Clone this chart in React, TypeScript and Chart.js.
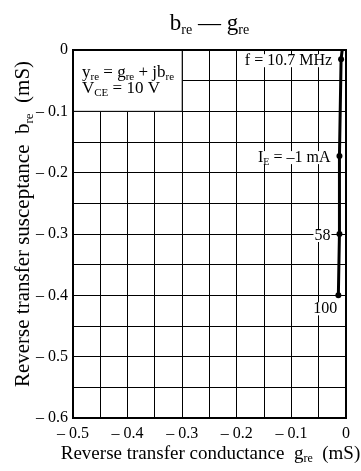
import React, { useEffect, useRef } from "react";
import { Chart, registerables } from "chart.js";

Chart.register(...registerables);

type Seg = { t: string; sub?: boolean };

// ---- data ----
const gValues = [-0.007, -0.009, -0.012, -0.012, -0.014];
const bValues = [0, -0.015, -0.173, -0.3, -0.4];
const markerShown = [false, true, true, true, true];
const pointLabels: Seg[][] = [
  [],
  [{ t: "f = 10.7 MHz" }],
  [{ t: "I" }, { t: "E", sub: true }, { t: " = \u20131 mA" }],
  [{ t: "58" }],
  [{ t: "100" }],
];
const xMin = -0.5;
const xMax = 0;
const yMin = -0.6;
const yMax = 0;
const gridStep = 0.05;
const titleText: Seg[] = [{ t: "b" }, { t: "re", sub: true }, { t: " \u2014 g" }, { t: "re", sub: true }];
const xTitle: Seg[] = [{ t: "Reverse transfer conductance  g" }, { t: "re", sub: true }, { t: "  (mS)" }];
const yTitle: Seg[] = [{ t: "Reverse transfer susceptance  b" }, { t: "re", sub: true }, { t: "  (mS)" }];
const noteLines: Seg[][] = [
  [{ t: "y" }, { t: "re", sub: true }, { t: " = g" }, { t: "re", sub: true }, { t: " + jb" }, { t: "re", sub: true }],
  [{ t: "V" }, { t: "CE", sub: true }, { t: " = 10 V" }],
];
const noteBox = { x0: -0.5, x1: -0.3, y0: 0, y1: -0.1 };

const FONT = '"Liberation Serif", "Times New Roman", serif';

function segFont(size: number, sub?: boolean) {
  return `${sub ? Math.round(size * 0.62) : size}px ${FONT}`;
}

function richWidth(ctx: CanvasRenderingContext2D, segs: Seg[], size: number) {
  let w = 0;
  for (const s of segs) {
    ctx.font = segFont(size, s.sub);
    w += ctx.measureText(s.t).width;
  }
  return w;
}

function drawRich(
  ctx: CanvasRenderingContext2D,
  segs: Seg[],
  x: number,
  baseline: number,
  size: number,
  align: "left" | "right" | "center"
) {
  const w = richWidth(ctx, segs, size);
  let cx = align === "left" ? x : align === "right" ? x - w : x - w / 2;
  ctx.textAlign = "left";
  ctx.textBaseline = "alphabetic";
  ctx.fillStyle = "#000";
  for (const s of segs) {
    ctx.font = segFont(size, s.sub);
    ctx.fillText(s.t, cx, baseline + (s.sub ? size * 0.18 : 0));
    cx += ctx.measureText(s.t).width;
  }
  return w;
}

const decorPlugin = {
  id: "decor",
  beforeDatasetsDraw(chart: any) {
    const ctx: CanvasRenderingContext2D = chart.ctx;
    const xs = chart.scales.x;
    const ys = chart.scales.y;
    // note box
    const l = xs.getPixelForValue(noteBox.x0);
    const r = xs.getPixelForValue(noteBox.x1);
    const t = ys.getPixelForValue(noteBox.y0);
    const b = ys.getPixelForValue(noteBox.y1);
    ctx.save();
    ctx.fillStyle = "#fff";
    ctx.fillRect(l, t, r - l, b - t);
    ctx.strokeStyle = "#000";
    ctx.lineWidth = 1;
    ctx.strokeRect(l, t, r - l, b - t);
    drawRich(ctx, noteLines[0], l + 9, t + 27, 17, "left");
    drawRich(ctx, noteLines[1], l + 9, t + 43, 17, "left");
    // point labels (with white background)
    const size = 16;
    for (let i = 0; i < gValues.length; i++) {
      const segs = pointLabels[i];
      if (!segs.length) continue;
      const px = xs.getPixelForValue(gValues[i]);
      const py = ys.getPixelForValue(bValues[i]);
      let right = px - 9;
      let cy = py + 1;
      if (i === 4) {
        right = px - 1;
        cy = py + 13;
      }
      const w = richWidth(ctx, segs, size);
      ctx.fillStyle = "#fff";
      ctx.fillRect(right - w - 1, cy - 6, w + 2, 13);
      drawRich(ctx, segs, right, cy + 5, size, "right");
    }
    ctx.restore();
  },
  afterDraw(chart: any) {
    const ctx: CanvasRenderingContext2D = chart.ctx;
    const a = chart.chartArea;
    ctx.save();
    ctx.strokeStyle = "#000";
    ctx.lineWidth = 2;
    ctx.strokeRect(a.left, a.top, a.right - a.left, a.bottom - a.top);
    // title
    const cx = (a.left + a.right) / 2;
    drawRich(ctx, titleText, cx, 30, 23, "center");
    // x title
    drawRich(ctx, xTitle, cx + 1, 459, 19, "center");
    // y title
    ctx.translate(29, 224);
    ctx.rotate(-Math.PI / 2);
    drawRich(ctx, yTitle, 0, 0, 21, "center");
    ctx.restore();
  },
};

function fmt(v: number) {
  const k = Math.round(v / gridStep);
  if (k % 2 !== 0) return "";
  if (Math.abs(v) < 1e-9) return "0";
  return "\u2013 " + Math.abs(v).toFixed(1);
}

export default function App() {
  const ref = useRef<HTMLCanvasElement | null>(null);
  useEffect(() => {
    document.body.style.margin = "0";
    const canvas = ref.current!;
    const data = gValues.map((g, i) => ({ x: g, y: bValues[i] }));
    const chart = new Chart(canvas, {
      type: "scatter",
      data: {
        datasets: [
          {
            data,
            showLine: true,
            borderColor: "#000",
            backgroundColor: "#000",
            borderWidth: 3,
            pointRadius: markerShown.map((m) => (m ? 3 : 0)),
            pointBorderWidth: 0,
            pointBackgroundColor: "#000",
          },
        ],
      },
      options: {
        responsive: false,
        animation: false,
        events: [],
        layout: { padding: { top: 50, right: 15, left: 0, bottom: 0 } },
        plugins: { legend: { display: false }, tooltip: { enabled: false }, title: { display: false } },
        scales: {
          x: {
            type: "linear",
            min: xMin,
            max: xMax,
            ticks: {
              stepSize: gridStep,
              autoSkip: false,
              maxRotation: 0,
              padding: 6,
              color: "#000",
              font: { family: FONT, size: 16 },
              callback: (v: any) => fmt(Number(v)),
            },
            grid: { color: "#000", lineWidth: 1, drawTicks: false },
            border: { display: true, color: "#000", width: 2 },
            afterFit: (s: any) => {
              s.height = 53;
            },
          },
          y: {
            type: "linear",
            min: yMin,
            max: yMax,
            ticks: {
              stepSize: gridStep,
              autoSkip: false,
              padding: 5,
              color: "#000",
              font: { family: FONT, size: 16 },
              callback: (v: any) => fmt(Number(v)),
            },
            grid: { color: "#000", lineWidth: 1, drawTicks: false },
            border: { display: true, color: "#000", width: 2 },
            afterFit: (s: any) => {
              s.width = 73;
            },
          },
        },
      },
      plugins: [decorPlugin],
    } as any);
    return () => chart.destroy();
  }, []);
  return <canvas ref={ref} width={361} height={471} style={{ display: "block" }} />;
}
